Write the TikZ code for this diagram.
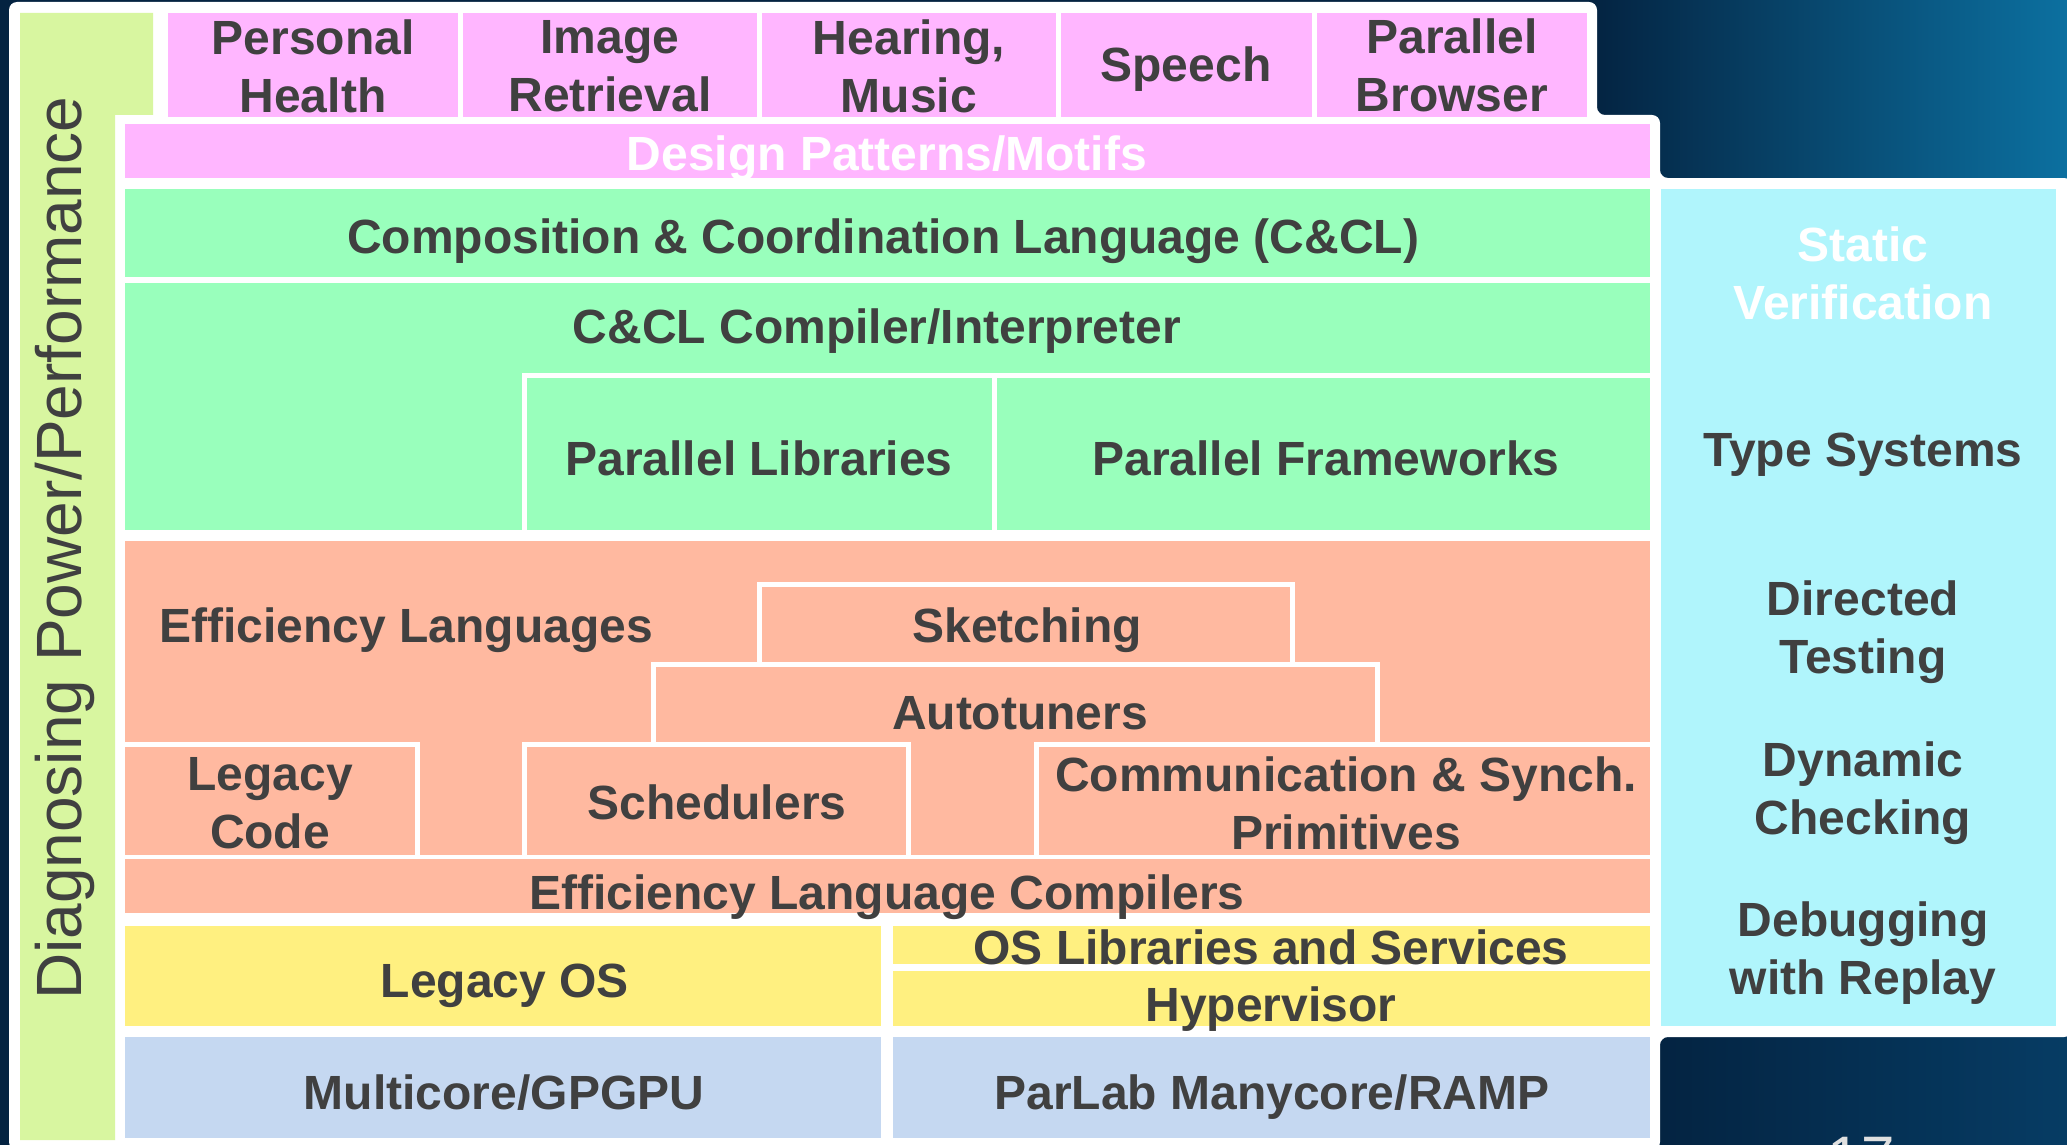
\documentclass[tikz,border=0pt]{standalone}
\usepackage{fontspec}
\setmainfont{Liberation Sans}
\definecolor{pinkc}{RGB}{255,182,255}
\definecolor{greenc}{RGB}{153,255,188}
\definecolor{salmonc}{RGB}{255,185,160}
\definecolor{yellowc}{RGB}{255,240,128}
\definecolor{bluec}{RGB}{197,216,241}
\definecolor{cyanc}{RGB}{176,245,252}
\definecolor{limec}{RGB}{216,246,160}
\definecolor{txt}{RGB}{64,64,64}
\definecolor{bgdark}{RGB}{4,35,65}
\definecolor{bglight}{RGB}{12,112,160}
\definecolor{bgmid}{RGB}{6,60,100}
\begin{document}
\begin{tikzpicture}[x=0.5pt,y=-0.5pt,
  lbl/.style={font=\fontsize{24}{29}\selectfont\bfseries, text=txt, align=center, inner sep=0pt},
  one/.style={lbl, text height=18pt, text depth=6pt},
  wline/.style={draw=white, line width=2.5pt, line join=miter}]
\useasboundingbox (0,0) rectangle (2067,1145);
\clip (0,0) rectangle (2067,1145);
% background
\fill[bgdark] (0,0) rectangle (2067,1145);
\shade[left color=bgdark, right color=bglight] (1590,0) rectangle (2067,190);
\shade[left color=bgdark, right color=bgmid] (1650,1030) rectangle (2067,1145);
% white panel
\fill[white, rounded corners=4] (9,2) -- (1597,2) -- (1597,115) -- (1660,115) -- (1660,178) -- (2072,178) -- (2072,1037) -- (1660,1037) -- (1660,1150) -- (9,1150) -- cycle;
% left lime bar
\fill[limec] (20,13) -- (153,13) -- (153,115) -- (115,115) -- (115,1140) -- (20,1140) -- cycle;
\node[rotate=90, font=\fontsize{32}{38}\selectfont, text=txt, inner sep=0pt] (diag) at (65,548) {Diagnosing Power/Performance};
% applications
\fill[pinkc] (168,13) rectangle (458,117);
\fill[pinkc] (463,13) rectangle (757,117);
\fill[pinkc] (762,13) rectangle (1056,117);
\fill[pinkc] (1061,13) rectangle (1312,117);
\fill[pinkc] (1317,13) rectangle (1587,117);
\node[lbl] (ph) at (313,66) {Personal\\Health};
\node[lbl] (ir) at (610,66) {Image\\Retrieval};
\node[lbl] (hm) at (909,66) {Hearing,\\Music};
\node[one] (sp) at (1186,70) {Speech};
\node[lbl] (pb) at (1452,65.5) {Parallel\\Browser};
% design patterns
\fill[pinkc] (125,124) rectangle (1650,178);
\node[one, text=white] (dp) at (887,158.5) {Design Patterns/Motifs};
% productivity layer
\fill[greenc] (125,189) rectangle (1650,277);
\node[one] (ccl) at (883,241) {Composition \& Coordination Language (C\&CL)};
\fill[greenc] (125,283) rectangle (1650,530);
\draw[wline] (524.5,530) -- (524.5,375.5) -- (1652,375.5);
\draw[wline] (994,375.5) -- (994,530);
\node[one] (cmp) at (877,331) {C\&CL Compiler/Interpreter};
\node[one] (plib) at (759,463) {Parallel Libraries};
\node[one] (pfw) at (1326,463) {Parallel Frameworks};
% efficiency layer
\fill[salmonc] (125,541) rectangle (1650,855);
\draw[wline] (759.5,664) -- (759.5,584.5) -- (1292.5,584.5) -- (1292.5,664);
\draw[wline] (653.5,746) -- (653.5,664.5) -- (1377.5,664.5) -- (1377.5,746);
\draw[wline] (125,744.5) -- (417.5,744.5) -- (417.5,857);
\draw[wline] (524.5,857) -- (524.5,744.5) -- (908,744.5) -- (908,857);
\draw[wline] (1036.5,857) -- (1036.5,744.5) -- (1652,744.5);
\node[one, anchor=west] (efl) at (159,630) {Efficiency Languages};
\node[one] (skt) at (1027,630) {Sketching};
\node[one] (aut) at (1020,717.5) {Autotuners};
\node[lbl] (lc) at (270,803.5) {Legacy\\Code};
\node[one] (sch) at (717,807) {Schedulers};
\node[lbl] (comm) at (1346,803) {Communication \& Synch.\\Primitives};
\fill[salmonc] (125,859) rectangle (1650,913);
\node[one] (elc) at (887,897) {Efficiency Language Compilers};
% OS layer
\fill[yellowc] (125,926) rectangle (881,1026);
\fill[yellowc] (893,926) rectangle (1650,964);
\fill[yellowc] (893,971) rectangle (1650,1026);
\node[one] (los) at (505,985) {Legacy OS};
\node[one] (osl) at (1271,952.5) {OS Libraries and Services};
\node[one] (hyp) at (1271,1009) {Hypervisor};
% hardware layer
\fill[bluec] (125,1037) rectangle (881,1138);
\fill[bluec] (893,1037) rectangle (1650,1138);
\node[one] (mc) at (504,1097.5) {Multicore/GPGPU};
\node[one] (pl) at (1272,1097.5) {ParLab Manycore/RAMP};
% correctness column
\fill[cyanc] (1661,189) rectangle (2056,1026);
\node[lbl, text=white] (sv) at (1863,273) {Static\\Verification};
\node[one] (ts) at (1863,454.5) {Type Systems};
\node[lbl] (dt) at (1863,632) {Directed\\Testing};
\node[lbl] (dc) at (1863,793) {Dynamic\\Checking};
\node[lbl] (dr) at (1863,953) {Debugging\\with Replay};
% slide number (cut by the lower edge, as in the slide)
\node[font=\fontsize{30}{36}\selectfont, text=white!88!black, anchor=base, inner sep=0pt] (num) at (1861,1178) {17};
\end{tikzpicture}
\end{document}
